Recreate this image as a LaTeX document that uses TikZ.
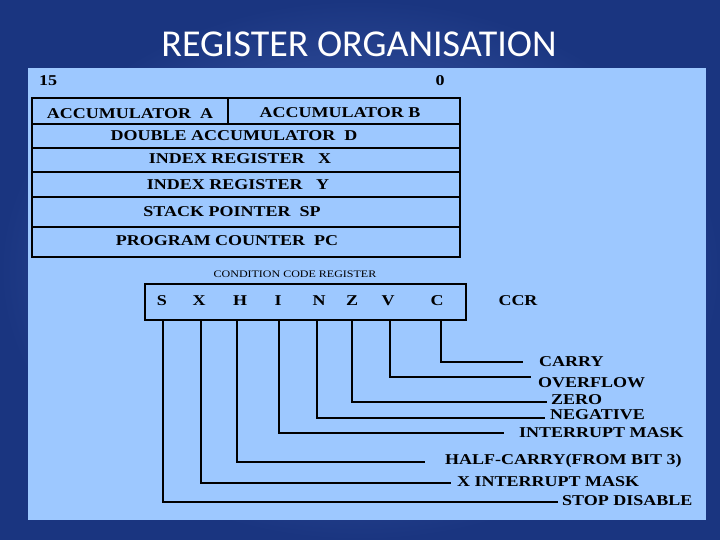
\documentclass[tikz,border=0pt]{standalone}
\usepackage{fontspec}
\setmainfont{Liberation Serif}
\newfontfamily\wide[FakeStretch=1.2]{Liberation Serif}
\newfontfamily\titlefont{Carlito}
\definecolor{bgdark}{HTML}{1A3580}
\definecolor{bglight}{HTML}{5070C0}
\definecolor{panel}{HTML}{9DC8FF}
\begin{document}
\begin{tikzpicture}[x=1pt,y=-1pt,
  lab/.style={font=\wide\bfseries\fontsize{15}{15}\selectfont, inner sep=0pt},
  reg/.style={font=\wide\bfseries\fontsize{15}{15}\selectfont, inner sep=0pt},
  ln/.style={line width=1.3pt}]
\useasboundingbox (0,0) rectangle (720,540);
\shade[inner color=bglight, outer color=bgdark] (0,0) rectangle (720,540);
\fill[panel] (28,68) rectangle (706,520);
\node[font=\titlefont\fontsize{38}{38}\selectfont, text=white] (title) at (359,44) {REGISTER ORGANISATION};
\node[reg] (b15) at (48,81) {15};
\node[reg] (b0) at (440,81) {0};
% register block
\draw[ln] (32,98) rectangle (460,257);
\foreach \y in {124,148,172,197,227} \draw[ln] (32,\y) -- (460,\y);
\draw[ln] (228,98) -- (228,124);
\node[reg] (ra) at (130,114) {ACCUMULATOR\ \ A};
\node[reg] (rb) at (340,113) {ACCUMULATOR B};
\node[reg] (rd) at (234,136) {DOUBLE ACCUMULATOR\ \ D};
\node[reg] (rx) at (240,159) {INDEX REGISTER\ \ \ X};
\node[reg] (ry) at (238,185) {INDEX REGISTER\ \ \ Y};
\node[reg] (rsp) at (232,212) {STACK POINTER\ \ SP};
\node[reg] (rpc) at (227,241) {PROGRAM COUNTER\ \ PC};
% CCR
\node[font=\wide\fontsize{10}{10}\selectfont, inner sep=0pt] (cct) at (295,274) {CONDITION CODE REGISTER};
\draw[ln] (145,284) rectangle (466,320);
\node[reg] (cs) at (162,301) {S};
\node[reg] (cx) at (199,301) {X};
\node[reg] (ch) at (240,301) {H};
\node[reg] (ci) at (278,301) {I};
\node[reg] (cn) at (319,301) {N};
\node[reg] (cz) at (352,301) {Z};
\node[reg] (cv) at (388,301) {V};
\node[reg] (cc) at (437,301) {C};
\node[reg] (ccr) at (518,301) {CCR};
% labels
\node[lab, anchor=west] (lc) at (539,362) {CARRY};
\node[lab, anchor=west] (lv) at (538,383) {OVERFLOW};
\node[lab, anchor=west] (lz) at (551,400) {ZERO};
\node[lab, anchor=west] (ln) at (550,415) {NEGATIVE};
\node[lab, anchor=west] (li) at (519,433) {INTERRUPT MASK};
\node[lab, anchor=west] (lh) at (445,461) {HALF-CARRY(FROM BIT 3)};
\node[lab, anchor=west] (lx) at (457,482) {X INTERRUPT MASK};
\node[lab, anchor=west] (ls) at (562,501) {STOP DISABLE};
\coordinate (ec) at (523,362); \coordinate (ev) at (531,377);
\coordinate (ez) at (547,402); \coordinate (en) at (545,418);
\coordinate (ei) at (504,433); \coordinate (eh) at (425,462);
\coordinate (ex) at (451,483); \coordinate (es) at (558,502);
\draw[ln] (441,320) |- (ec);
\draw[ln] (390,320) |- (ev);
\draw[ln] (352,320) |- (ez);
\draw[ln] (317,320) |- (en);
\draw[ln] (279,320) |- (ei);
\draw[ln] (237,320) |- (eh);
\draw[ln] (201,320) |- (ex);
\draw[ln] (163,320) |- (es);
\end{tikzpicture}
\end{document}
